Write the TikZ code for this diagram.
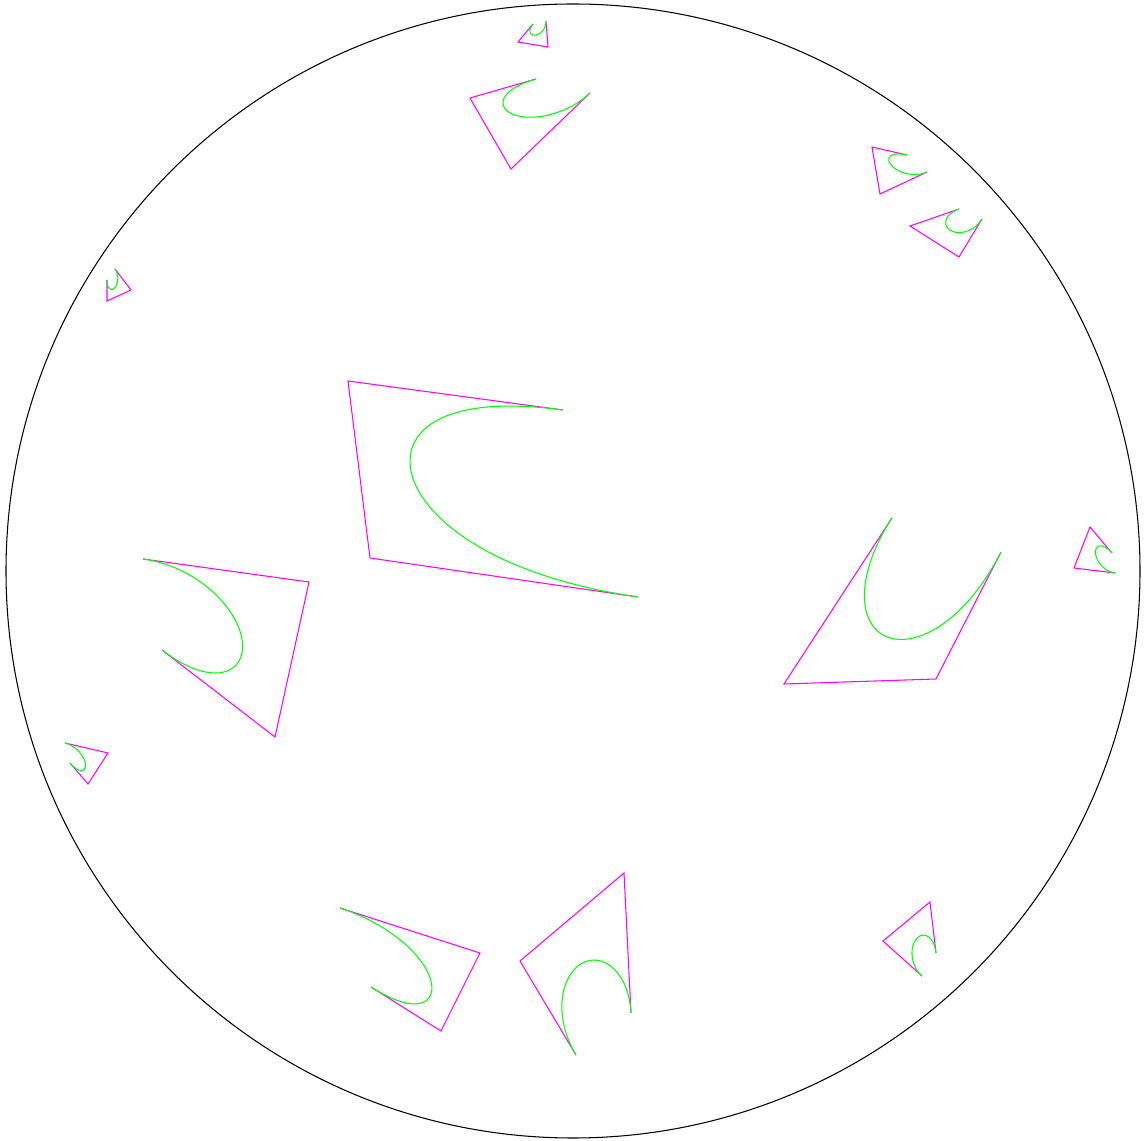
\documentclass[tikz,border=0pt]{standalone}
\usepackage{tikz}
\definecolor{polycol}{RGB}{255,0,255}
\definecolor{curvecol}{RGB}{0,255,0}
\tikzset{
  ctrlpoly/.style={draw=polycol,line width=0.6pt,line join=miter},
  bez/.style={draw=curvecol,line width=0.6pt},
  disc/.style={draw=black,line width=0.6pt},
}
% control polygon and its (rational) cubic, weights from the disc position
\newcommand{\kleinbez}[8]{%
  \pgfmathsetmacro\kux{((#1+#3+#5+#7)/4-573)/567}%
  \pgfmathsetmacro\kuy{((#2+#4+#6+#8)/4-571)/567}%
  \pgfmathsetmacro\kla{1-\kux*(#1-573)/567-\kuy*(#2-571)/567}%
  \pgfmathsetmacro\kwb{(\kla/(1-\kux*(#3-573)/567-\kuy*(#4-571)/567))^2}%
  \pgfmathsetmacro\kwc{(\kla/(1-\kux*(#5-573)/567-\kuy*(#6-571)/567))^2}%
  \pgfmathsetmacro\kwd{(\kla/(1-\kux*(#7-573)/567-\kuy*(#8-571)/567))^2}%
  \draw[ctrlpoly] (#1,#2) -- (#3,#4) -- (#5,#6) -- (#7,#8);
  \draw[bez] plot[domain=0:1,samples=70,variable=\t]
    ({573+((#1-573)*(1-\t)^3+3*\kwb*(#3-573)*\t*(1-\t)^2+3*\kwc*(#5-573)*\t^2*(1-\t)+\kwd*(#7-573)*\t^3)/((1-\t)^3+3*\kwb*\t*(1-\t)^2+3*\kwc*\t^2*(1-\t)+\kwd*\t^3)},
     {571+((#2-571)*(1-\t)^3+3*\kwb*(#4-571)*\t*(1-\t)^2+3*\kwc*(#6-571)*\t^2*(1-\t)+\kwd*(#8-571)*\t^3)/((1-\t)^3+3*\kwb*\t*(1-\t)^2+3*\kwc*\t^2*(1-\t)+\kwd*\t^3)});
}
\begin{document}
\begin{tikzpicture}[x=0.02cm,y=-0.02cm]
  \useasboundingbox (0,0) rectangle (1147,1141);
  \draw[disc] (573,571) circle (567);
  % big ones
  \kleinbez{563}{410}{348}{381}{370}{558}{638}{597}
  \kleinbez{892}{518}{784}{684}{936}{679}{1001}{552}
  \kleinbez{143}{559}{309}{582}{275}{737}{162}{650}
  \kleinbez{340}{908}{480}{953}{441}{1031}{371}{987}
  \kleinbez{576}{1055}{520}{961}{624}{873}{631}{1013}
  \kleinbez{536}{79}{470}{98}{511}{169}{590}{93}
  % small ones
  \kleinbez{533}{24}{518}{42}{548}{47}{546}{21}
  \kleinbez{907}{155}{872}{147}{880}{194}{927}{172}
  \kleinbez{959}{209}{910}{226}{959}{257}{982}{219}
  \kleinbez{922}{976}{883}{941}{930}{902}{936}{953}
  \kleinbez{1112}{553}{1090}{527}{1074}{568}{1115}{573}
  \kleinbez{65}{743}{108}{753}{88}{784}{70}{763}
  \kleinbez{115}{269}{131}{290}{107}{301}{107}{280}
\end{tikzpicture}
\end{document}
